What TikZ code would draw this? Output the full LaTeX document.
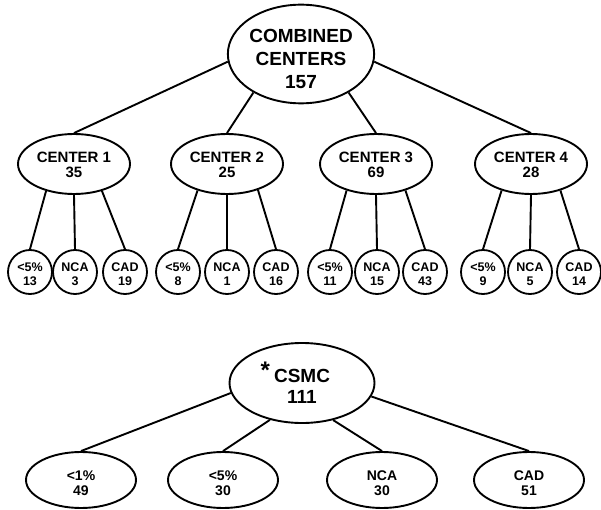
\documentclass[tikz,border=0pt]{standalone}
\usepackage{fontspec}
\setmainfont{Liberation Sans}
\usetikzlibrary{shapes.geometric}
\newcommand{\toppad}[1]{\rule{0pt}{#1}}
\begin{document}
\begin{tikzpicture}[x=1pt,y=-1pt,
  ell/.style={ellipse, draw, line width=1.9pt, inner sep=0pt, align=center},
  bigell/.style={ell, minimum width=146pt, minimum height=84pt, font=\bfseries\fontsize{19}{23}\selectfont},
  ctrell/.style={ell, minimum width=112pt, minimum height=60pt, font=\bfseries\fontsize{15}{15}\selectfont},
  leafcirc/.style={circle, draw, line width=1.8pt, inner sep=0pt, minimum size=44pt, align=center, font=\bfseries\fontsize{12.5}{14}\selectfont},
  csmcell/.style={ell, minimum width=145pt, minimum height=80pt, font=\bfseries\fontsize{19}{21}\selectfont},
  bleaf/.style={ell, minimum width=110pt, minimum height=56pt, font=\bfseries\fontsize{14}{14.5}\selectfont},
  link/.style={line width=1.9pt}]
\useasboundingbox (0,0) rectangle (601,510);

% upper tree
\node[bigell] (top) at (301,54) {\toppad{23.6pt}COMBINED\\CENTERS\\157};
\node[ctrell] (c1) at (74,164) {\toppad{13pt}CENTER 1\\35};
\node[ctrell] (c2) at (227,164) {\toppad{13pt}CENTER 2\\25};
\node[ctrell] (c3) at (376,164) {\toppad{13pt}CENTER 3\\69};
\node[ctrell] (c4) at (531,164) {\toppad{13pt}CENTER 4\\28};

\draw[link] (top.186) -- (c1.north);
\draw[link] (top.219) -- (c2.north);
\draw[link] (top.321) -- (c3.north);
\draw[link] (top.354) -- (c4.north);

\node[leafcirc] (a1) at (30,272) {\toppad{13pt}<5\%\\13};
\node[leafcirc] (a2) at (75,272) {\toppad{13pt}NCA\\3};
\node[leafcirc] (a3) at (125,272) {\toppad{13pt}CAD\\19};
\node[leafcirc] (b1) at (178,272) {\toppad{13pt}<5\%\\8};
\node[leafcirc] (b2) at (227,272) {\toppad{13pt}NCA\\1};
\node[leafcirc] (b3) at (276,272) {\toppad{13pt}CAD\\16};
\node[leafcirc] (d1) at (330,272) {\toppad{13pt}<5\%\\11};
\node[leafcirc] (d2) at (377,272) {\toppad{13pt}NCA\\15};
\node[leafcirc] (d3) at (425,272) {\toppad{13pt}CAD\\43};
\node[leafcirc] (e1) at (483,272) {\toppad{13pt}<5\%\\9};
\node[leafcirc] (e2) at (530,272) {\toppad{13pt}NCA\\5};
\node[leafcirc] (e3) at (579,272) {\toppad{13pt}CAD\\14};

\draw[link] (c1.224) -- (a1.north);
\draw[link] (c1.south) -- (a2.north);
\draw[link] (c1.316) -- (a3.north);
\draw[link] (c2.222) -- (b1.north);
\draw[link] (c2.south) -- (b2.north);
\draw[link] (c2.320) -- (b3.north);
\draw[link] (c3.222) -- (d1.north);
\draw[link] (c3.south) -- (d2.north);
\draw[link] (c3.318) -- (d3.north);
\draw[link] (c4.222) -- (e1.north);
\draw[link] (c4.south) -- (e2.north);
\draw[link] (c4.318) -- (e3.north);

% lower tree
\node[csmcell] (csmc) at (302,383) {\llap{\raisebox{4pt}{\fontsize{24}{24}\selectfont *}\hspace{4pt}}CSMC\\111};
\node[bleaf] (f1) at (81,480) {\toppad{16pt}<1\%\\49};
\node[bleaf] (f2) at (223,480) {\toppad{16pt}<5\%\\30};
\node[bleaf] (f3) at (382,480) {\toppad{16pt}NCA\\30};
\node[bleaf] (f4) at (529,480) {\toppad{16pt}CAD\\51};

\draw[link] (csmc.188) -- (f1.north);
\draw[link] (csmc.229) -- (f2.north);
\draw[link] (csmc.310) -- (f3.north);
\draw[link] (csmc.349) -- (f4.north);
\end{tikzpicture}
\end{document}
